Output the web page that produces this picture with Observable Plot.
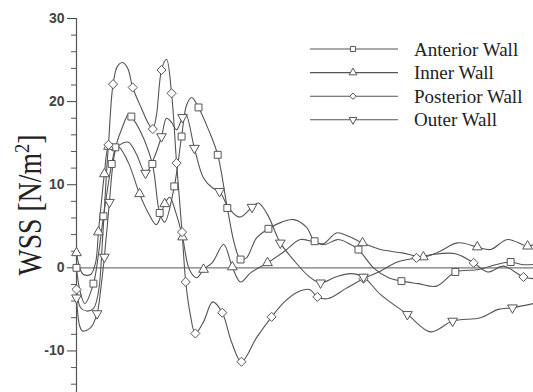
<!DOCTYPE html>
<html><head><meta charset="utf-8">
<script src="https://cdn.jsdelivr.net/npm/d3@7"></script>
<script src="https://cdn.jsdelivr.net/npm/@observablehq/plot@0.6"></script>
<style>html,body{margin:0;padding:0;background:#fff;} #chart{position:relative;width:533px;height:392px;}</style>
</head><body><div id="chart"></div>
<script>
// ---- data (time as fraction of the plotted interval, WSS in N/m^2) ----
const seriesNames = ["Anterior Wall", "Inner Wall", "Posterior Wall", "Outer Wall"];
const yMajorTicks = [-10, 0, 10, 20, 30];
const yLabel = ["WSS [N/m", "2", "]"];

const anteriorT = [0, .007, .018, .037, .048, .059, .077, .085, .101, .114, .120, .140, .166, .182, .193, .214, .230, .241, .252, .267, .289, .309, .330, .346, .359, .372, .394, .420, .449, .475, .503, .521, .543, .571, .597, .617, .650, .683, .711, .748, .788, .829, .880, .919, .950, .974, 1];
const anteriorWSS = [0, -2.6, -4.3, -1.9, 1.6, 6.2, 12.5, 14.5, 17.0, 18.5, 18.2, 16.4, 12.5, 6.6, 5.5, 9.8, 15.8, 19.6, 20.5, 19.3, 16.6, 13.6, 7.2, 2.8, 1.0, 1.2, 3.6, 4.7, 5.5, 5.8, 4.9, 3.2, 2.8, 3.4, 2.9, 2.2, 0, -1.2, -1.6, -1.9, -2.2, -0.5, -0.2, 0.4, 0.7, 0.4, 0.4];
const anteriorMarkers = [0, 3, 5, 6, 7, 10, 12, 13, 15, 16, 19, 21, 22, 24, 27, 31, 35, 38, 41, 44];

const innerT = [0, .007, .015, .031, .042, .048, .055, .061, .070, .079, .094, .114, .138, .158, .175, .193, .204, .217, .232, .247, .263, .278, .298, .322, .341, .359, .381, .418, .453, .490, .521, .540, .569, .595, .626, .665, .713, .759, .792, .834, .877, .906, .943, .987, 1];
const innerWSS = [1.8, 0, -0.8, -0.8, 0.7, 4.3, 8.2, 11.3, 14.6, 14.9, 14.5, 12.6, 8.9, 6.5, 5.2, 7.7, 8.5, 6.7, 3.7, -0.2, -1.2, -0.2, 0.7, 2.8, 0.1, -1.7, -0.6, 0.6, 1.9, 3.4, 3.1, 2.9, 4.2, 3.8, 3.0, 2.2, 1.8, 1.3, 1.9, 3.0, 2.5, 2.2, 3.4, 2.6, 2.8];
const innerMarkers = [0, 5, 7, 8, 12, 15, 18, 21, 24, 27, 34, 37, 40, 43];

const posteriorT = [0, .009, .022, .037, .048, .057, .066, .070, .080, .090, .101, .112, .123, .142, .158, .167, .175, .186, .197, .208, .219, .231, .239, .249, .260, .278, .298, .319, .339, .361, .394, .427, .455, .484, .510, .527, .551, .589, .628, .665, .702, .744, .779, .829, .869, .900, .934, .978, 1];
const posteriorWSS = [-2.6, -4.8, -5.2, -4.9, -2.9, 3.4, 11.8, 14.8, 22.1, 24.3, 24.7, 24.0, 21.7, 19.2, 17.3, 16.7, 18.4, 23.8, 25.1, 21.0, 12.6, 4.3, -1.7, -5.6, -7.9, -6.5, -4.1, -5.4, -8.9, -11.3, -8.4, -5.9, -4.1, -2.9, -2.6, -3.5, -3.7, -2.5, -1.3, -0.4, 0.7, 1.2, 1.6, 1.7, 0.6, -0.5, 0.2, -1.1, -1.3];
const posteriorMarkers = [0, 7, 8, 12, 15, 17, 19, 20, 21, 22, 24, 27, 29, 31, 35, 38, 41, 44, 47];

const outerT = [0, .007, .013, .031, .045, .053, .061, .072, .081, .088, .101, .114, .131, .151, .168, .186, .197, .208, .219, .232, .239, .258, .278, .298, .313, .333, .357, .384, .398, .418, .446, .479, .508, .534, .567, .600, .628, .665, .724, .775, .823, .884, .923, .954, 1];
const outerWSS = [-3.6, -7.0, -7.6, -7.2, -5.5, -2.6, 1.3, 7.9, 13.0, 14.5, 15.0, 15.1, 13.7, 11.4, 13.0, 15.8, 18.0, 17.5, 16.6, 18.1, 18.5, 14.4, 10.8, 9.6, 9.2, 7.2, 6.1, 7.3, 7.8, 6.4, 3.0, 0.7, -1.0, -1.8, -1.1, -0.7, -1.1, -3.2, -5.6, -7.7, -6.4, -6.0, -5.0, -4.8, -4.3];
const outerMarkers = [0, 4, 6, 7, 13, 15, 19, 21, 24, 27, 30, 33, 36, 38, 40, 43];

// ---- build ----
const downTriangle = {
  draw(context, size) {
    const y = -Math.sqrt(size / (Math.sqrt(3) * 3));
    context.moveTo(0, -y * 2);
    context.lineTo(-Math.sqrt(3) * y, y);
    context.lineTo(Math.sqrt(3) * y, y);
    context.closePath();
  }
};
const symbols = ["square", "triangle", "diamond2", downTriangle];
const d3symbols = [d3.symbolSquare, d3.symbolTriangle, d3.symbolDiamond2, downTriangle];
const radii = [3.9, 3.6, 4.1, 3.6];
const sources = [
  [anteriorT, anteriorWSS, anteriorMarkers],
  [innerT, innerWSS, innerMarkers],
  [posteriorT, posteriorWSS, posteriorMarkers],
  [outerT, outerWSS, outerMarkers]
];
const rows = sources.map(([T, W], s) => T.map((t, i) => ({series: seriesNames[s], t, wss: W[i]})));
const markerRows = sources.map(([T, W, M], s) => M.map(i => ({series: seriesNames[s], t: T[i], wss: W[i]})));
const minorTicks = d3.range(-14, 31, 2).filter(d => d % 10 !== 0);

const ink = "#555";
const plot = Plot.plot({
  width: 533, height: 392,
  marginLeft: 76, marginRight: 0, marginTop: 18, marginBottom: 0,
  style: {fontFamily: "'Liberation Sans', Arial, sans-serif", background: "#fff"},
  x: {domain: [0, 1], axis: null},
  y: {domain: [-15, 30]},
  marks: [
    Plot.ruleY([0], {stroke: "#777", strokeWidth: 1.4}),
    Plot.ruleX([0], {y1: -15, y2: 30, stroke: ink, strokeWidth: 1.2}),
    Plot.axisY({ticks: minorTicks, tickSize: 5, tickFormat: () => "", label: null, color: ink}),
    Plot.axisY({ticks: yMajorTicks, tickSize: 9, tickPadding: 3, tickFormat: d => String(d), label: null,
      color: "#444", fontSize: 14, fontWeight: "bold"}),
    ...rows.map(r => Plot.line(r, {x: "t", y: "wss", curve: "catmull-rom", stroke: ink, strokeWidth: 1.1})),
    ...markerRows.map((r, s) => Plot.dot(r, {x: "t", y: "wss", symbol: symbols[s], r: radii[s], fill: "#fff", stroke: ink, strokeWidth: 1}))
  ]
});
document.getElementById("chart").appendChild(plot);

const svg = d3.select(plot);
// y-axis title
const title = svg.append("text")
  .attr("transform", "translate(41,205) rotate(-90) scale(0.84,1)")
  .attr("text-anchor", "middle")
  .attr("font-family", "'Liberation Serif', 'Times New Roman', serif")
  .attr("font-size", 33)
  .attr("fill", "#222");
title.append("tspan").text(yLabel[0]);
title.append("tspan").attr("baseline-shift", "super").attr("font-size", 22).text(yLabel[1]);
title.append("tspan").text(yLabel[2]);

// legend
const lg = svg.append("g").attr("transform", "translate(310,49)");
seriesNames.forEach((name, i) => {
  const g = lg.append("g").attr("transform", `translate(0,${i * 23.6})`);
  g.append("line").attr("x1", 0).attr("x2", 88).attr("stroke", ink).attr("stroke-width", 1.1);
  g.append("path").attr("transform", "translate(43,0)")
    .attr("d", d3.symbol(d3symbols[i], 26)()).attr("fill", "#fff").attr("stroke", ink);
  g.append("text").attr("x", 104).attr("y", 6.5)
    .attr("text-anchor", "start")
    .attr("font-family", "'Liberation Serif', 'Times New Roman', serif")
    .attr("font-size", 19).attr("fill", "#222").text(name);
});
</script>
</body></html>
